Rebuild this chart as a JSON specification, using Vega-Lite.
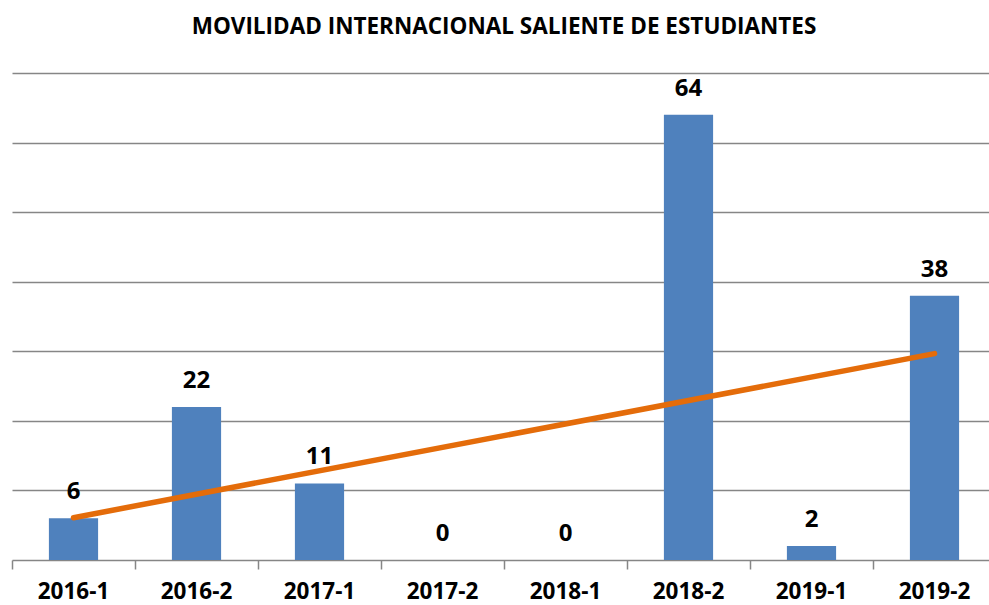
{
  "$schema": "https://vega.github.io/schema/vega-lite/v6.json",
  "width": 984,
  "height": 487,
  "autosize": {"type": "none"},
  "padding": {"left": 12, "top": 73, "right": 0, "bottom": 45},
  "background": "white",
  "title": {
    "text": "MOVILIDAD INTERNACIONAL SALIENTE DE ESTUDIANTES",
    "font": "Open Sans",
    "fontWeight": "bold",
    "fontSize": 22.5,
    "color": "#000000",
    "anchor": "middle",
    "baseline": "alphabetic",
    "offset": 17
  },
  "datasets": {
    "movilidad": [
      {"periodo": "2016-1", "idx": 1, "valor": 6},
      {"periodo": "2016-2", "idx": 2, "valor": 22},
      {"periodo": "2017-1", "idx": 3, "valor": 11},
      {"periodo": "2017-2", "idx": 4, "valor": 0},
      {"periodo": "2018-1", "idx": 5, "valor": 0},
      {"periodo": "2018-2", "idx": 6, "valor": 64},
      {"periodo": "2019-1", "idx": 7, "valor": 2},
      {"periodo": "2019-2", "idx": 8, "valor": 38}
    ]
  },
  "data": {"name": "movilidad"},
  "config": {
    "view": {"stroke": null},
    "font": "Open Sans"
  },
  "encoding": {
    "x": {
      "field": "periodo",
      "type": "nominal",
      "sort": "ascending",
      "scale": {"paddingInner": 0, "paddingOuter": 0},
      "axis": {
        "title": null,
        "labelAngle": 0,
        "labelFont": "Open Sans",
        "labelFontWeight": "bold",
        "labelFontSize": 22.5,
        "labelColor": "#000000",
        "labelBaseline": "alphabetic",
        "labelPadding": 29,
        "tickSize": 9,
        "tickColor": "#868686",
        "tickWidth": 1.5,
        "bandPosition": 0,
        "domainColor": "#868686",
        "domainWidth": 1.5,
        "grid": false
      }
    },
    "y": {
      "field": "valor",
      "type": "quantitative",
      "scale": {"domain": [0, 70], "nice": false},
      "axis": {
        "title": null,
        "labels": false,
        "ticks": false,
        "domain": false,
        "values": [10, 20, 30, 40, 50, 60, 70],
        "grid": true,
        "gridColor": "#868686",
        "gridWidth": 1.5
      }
    }
  },
  "layer": [
    {
      "mark": {"type": "bar", "color": "#4F81BD", "width": {"band": 0.4}}
    },
    {
      "mark": {"type": "text", "font": "Open Sans", "fontWeight": "bold", "fontSize": 24, "color": "#000000", "baseline": "alphabetic", "dy": -19},
      "encoding": {"text": {"field": "valor", "type": "quantitative"}}
    },
    {
      "transform": [
        {"regression": "valor", "on": "idx"},
        {"lookup": "idx", "from": {"data": {"name": "movilidad"}, "key": "idx", "fields": ["periodo"]}}
      ],
      "mark": {"type": "line", "color": "#E46C0A", "strokeWidth": 5.5, "strokeCap": "round"},
      "encoding": {}
    }
  ]
}
